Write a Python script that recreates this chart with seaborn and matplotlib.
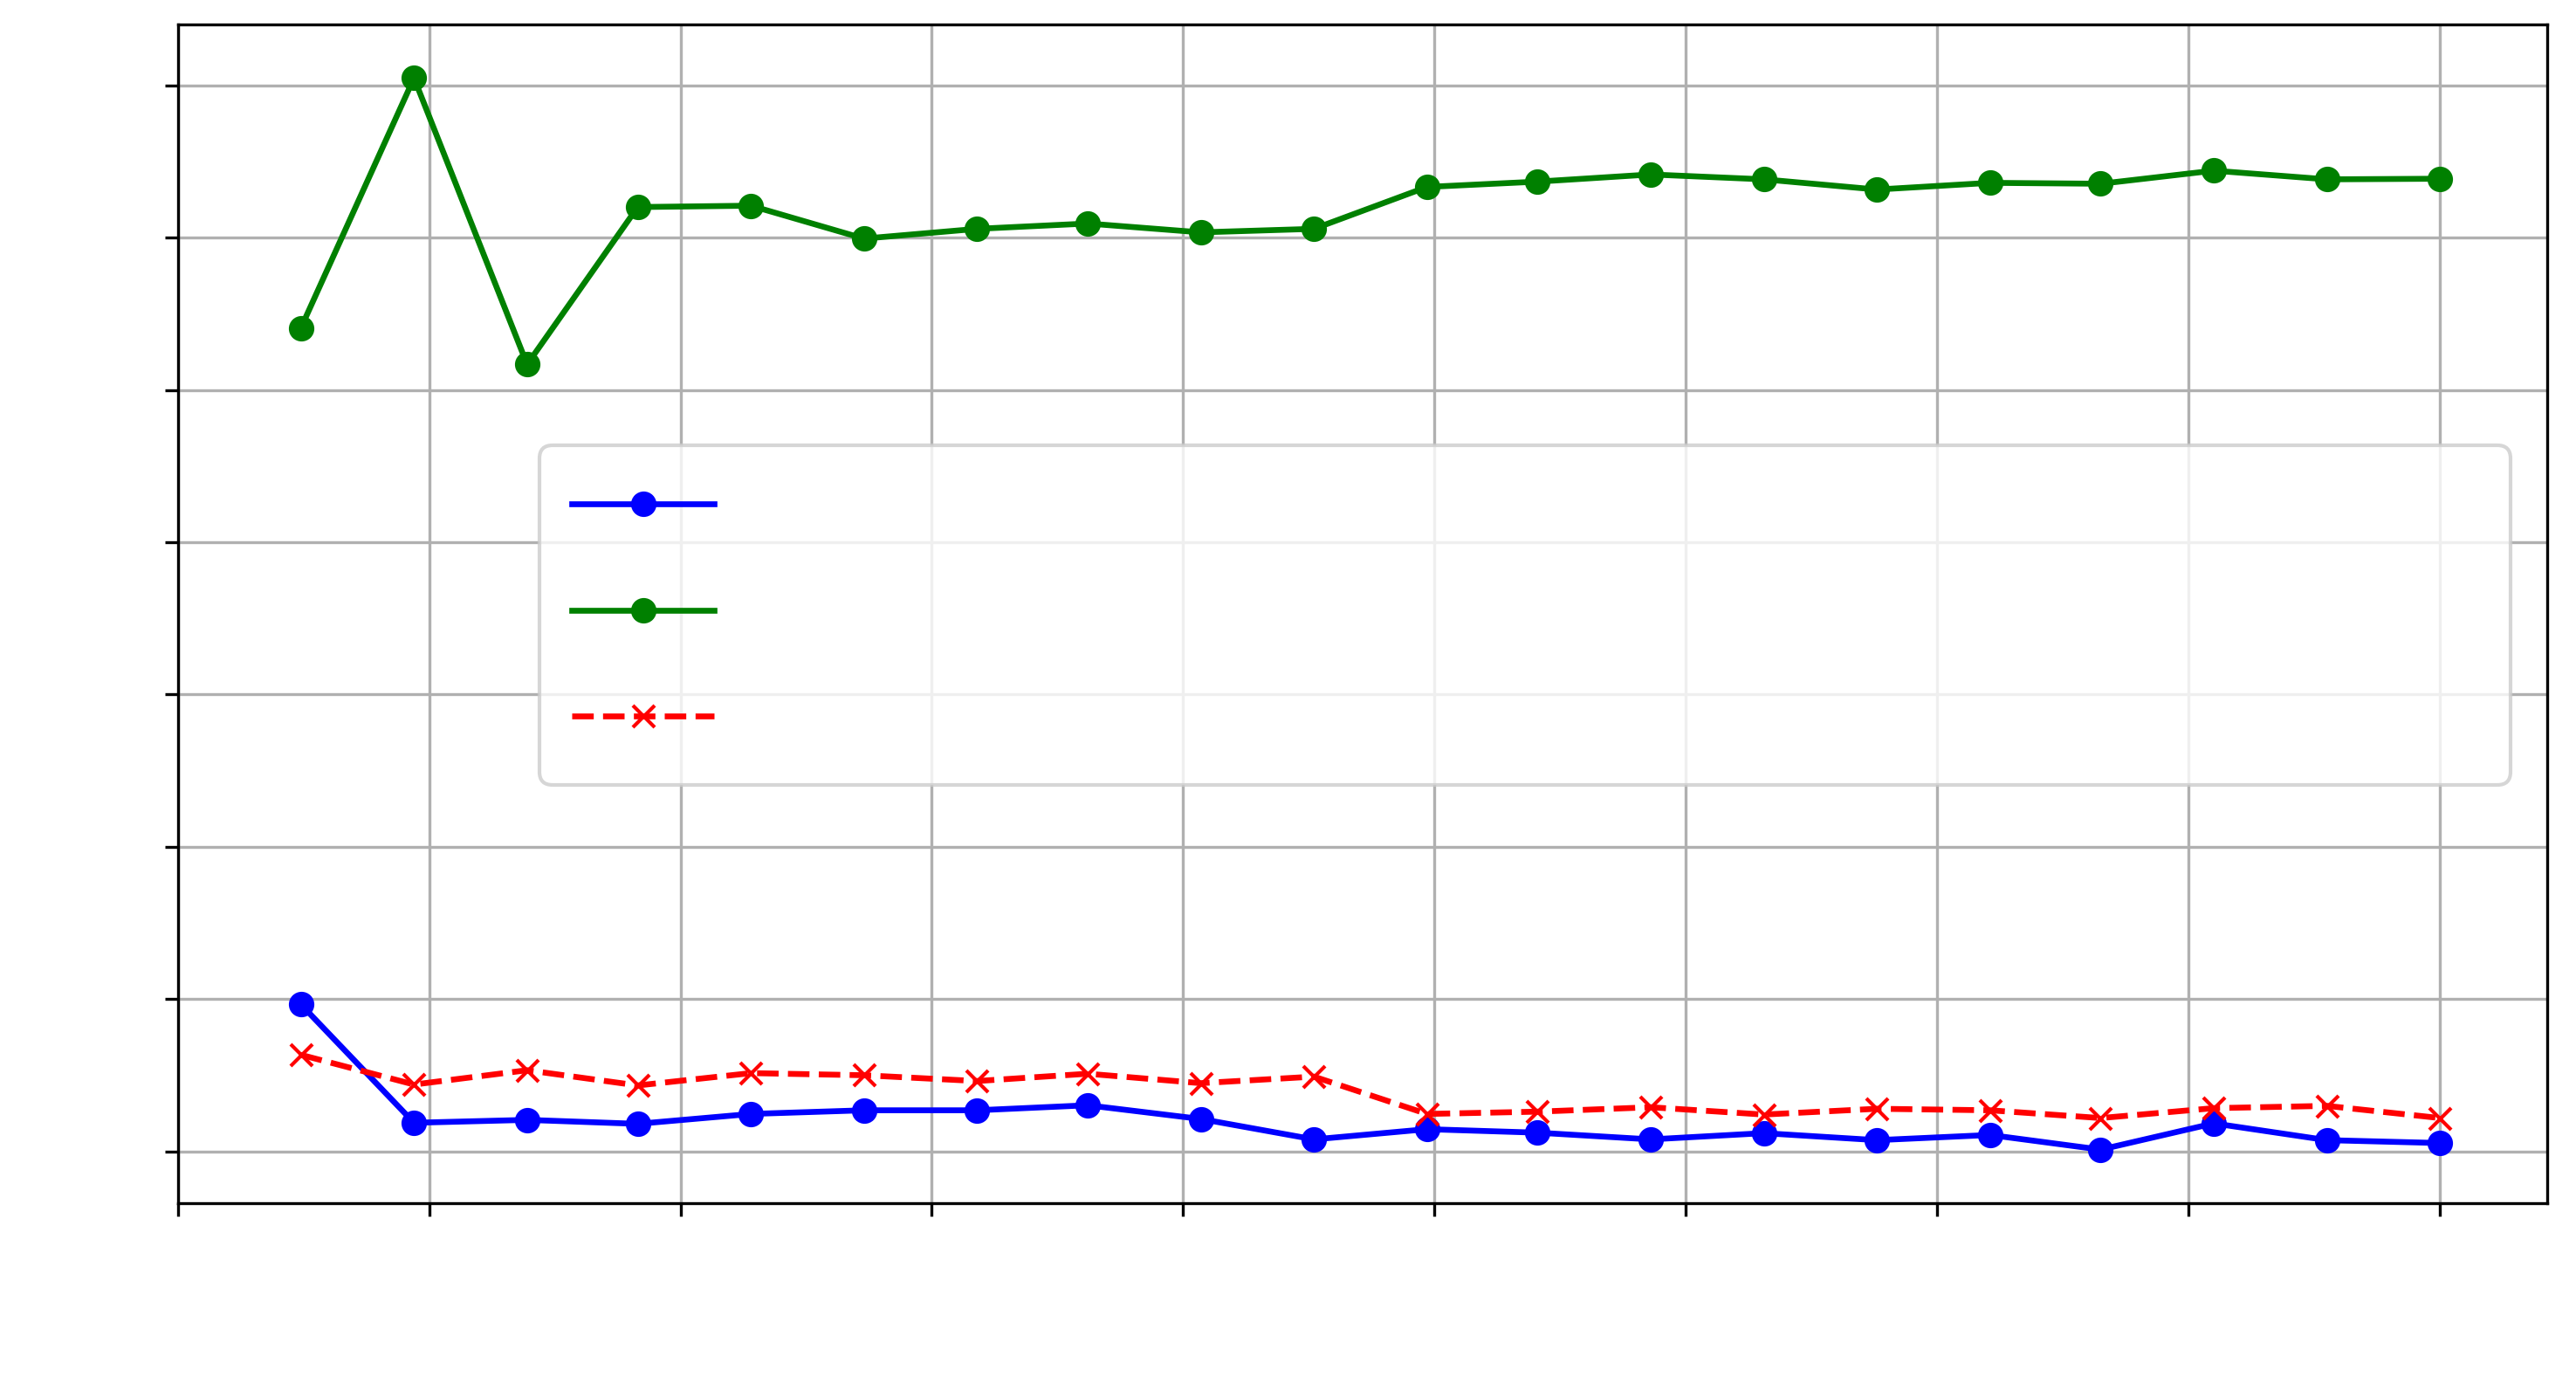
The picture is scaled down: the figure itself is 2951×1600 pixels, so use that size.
import matplotlib
matplotlib.use("Agg")
import matplotlib.pyplot as plt
import seaborn as sns
import numpy as np
import pandas as pd

# x positions (in tick units)
x_vals = [0.49, 0.94, 1.39, 1.83, 2.28, 2.73, 3.18, 3.62, 4.07, 4.52,
          4.97, 5.41, 5.86, 6.31, 6.76, 7.21, 7.65, 8.10, 8.55, 9.00]

blue_vals = [0.966, 0.189, 0.208, 0.182, 0.247, 0.271, 0.271, 0.304, 0.214, 0.080,
             0.147, 0.124, 0.080, 0.121, 0.075, 0.109, 0.013, 0.185, 0.075, 0.056]
green_vals = [5.406, 7.047, 5.167, 6.200, 6.209, 5.993, 6.057, 6.092, 6.034, 6.057,
              6.332, 6.367, 6.414, 6.382, 6.315, 6.359, 6.353, 6.439, 6.382, 6.386]
red_vals = [0.635, 0.440, 0.534, 0.434, 0.515, 0.501, 0.463, 0.511, 0.449, 0.492,
            0.247, 0.262, 0.291, 0.243, 0.281, 0.271, 0.220, 0.285, 0.300, 0.220]

x_ticks = list(range(0, 10))
y_ticks = list(range(0, 8))

matplotlib.rcdefaults()
fig = plt.figure(figsize=(2951 / 300, 1600 / 300), dpi=300)
ax = fig.add_axes([203.6 / 2951, 1 - 1378 / 1600, (2917.7 - 203.6) / 2951, (1378 - 28) / 1600])

sns.lineplot(x=x_vals, y=blue_vals, ax=ax, color="blue", marker="o", linestyle="-",
             markeredgecolor="blue", markeredgewidth=1, markersize=6, linewidth=1.6)
sns.lineplot(x=x_vals, y=green_vals, ax=ax, color="green", marker="o", linestyle="-",
             markeredgecolor="green", markeredgewidth=1, markersize=6, linewidth=1.6)
sns.lineplot(x=x_vals, y=red_vals, ax=ax, color="red", marker="x", linestyle="--",
             markeredgecolor="red", markeredgewidth=1, markersize=6, linewidth=1.6)

ax.set_xlim(left=0)
ax.set_xticks(x_ticks)
ax.set_yticks(y_ticks)
ax.tick_params(labelleft=False, labelbottom=False)
ax.grid(True, color="#b0b0b0", linewidth=0.8)
ax.set_axisbelow(True)

handles = ax.get_lines()[:3]
ax.legend(handles, ["", "", ""], loc="upper left",
          bbox_to_anchor=(0.1527, 0.356, 0.832, 0.287), mode="expand",
          borderaxespad=0, fontsize=18, handlelength=2.18,
          labelspacing=0.645, borderpad=0.49)

fig.savefig("out.png", dpi=300)
